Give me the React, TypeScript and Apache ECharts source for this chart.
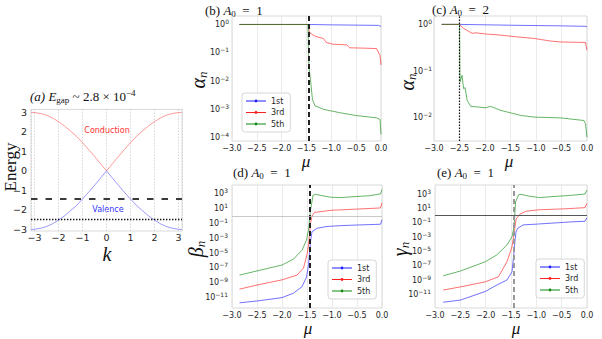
import React, { useEffect, useRef } from 'react';
import * as echarts from 'echarts';

// ---------- Panel (a): band structure ----------
const kPoints = [-3.14, -3, -2.75, -2.5, -2.25, -2, -1.75, -1.5, -1.25, -1, -0.75, -0.5, -0.25, 0, 0.25, 0.5, 0.75, 1, 1.25, 1.5, 1.75, 2, 2.25, 2.5, 2.75, 3, 3.14];
const conductionEnergy = [3.0, 2.99, 2.94, 2.85, 2.71, 2.52, 2.3, 2.04, 1.77, 1.44, 1.1, 0.74, 0.37, 0.0, 0.37, 0.74, 1.1, 1.44, 1.77, 2.04, 2.3, 2.52, 2.71, 2.85, 2.94, 2.99, 3.0];
const valenceEnergy = [-3.0, -2.99, -2.94, -2.85, -2.71, -2.52, -2.3, -2.04, -1.77, -1.44, -1.1, -0.74, -0.37, 0.0, -0.37, -0.74, -1.1, -1.44, -1.77, -2.04, -2.3, -2.52, -2.71, -2.85, -2.94, -2.99, -3.0];
const levelDashed = -1.42;
const levelDotted = -2.5;

// ---------- Panel (b): alpha_n, A0 = 1 ----------
const bMu1 = [-2.85, -1.45, -1.0, -0.5, -0.05, 0];
const bAlpha1 = [1, 1, 0.97, 0.95, 0.93, 0.85];
const bMu3 = [-2.85, -1.46, -1.45, -1.42, -1.33, -1.25, -1.16, -1.1, -0.96, -0.69, -0.63, -0.3, -0.09, -0.02, 0];
const bAlpha3 = [1, 1, 0.6, 0.48, 0.39, 0.35, 0.32, 0.23, 0.2, 0.19, 0.15, 0.145, 0.14, 0.08, 0.037];
const bMu5 = [-2.85, -1.47, -1.46, -1.45, -1.42, -1.38, -1.33, -1.16, -0.83, -0.49, -0.09, -0.02, 0];
const bAlpha5 = [1, 1, 0.1, 0.03, 0.0112, 0.0022, 0.00135, 0.001, 0.00076, 0.0006, 0.0005, 0.00044, 0.00013];
const bMarker = -1.45;

// ---------- Panel (c): alpha_n, A0 = 2 ----------
const cMu1 = [-2.85, -2.5, -1.5, -0.5, -0.03, 0];
const cAlpha1 = [1, 1, 0.96, 0.93, 0.91, 0.89];
const cMu3 = [-2.85, -2.5, -2.42, -2.25, -2.19, -1.96, -1.7, -1.37, -1.04, -0.72, -0.52, -0.03, 0];
const cAlpha3 = [1, 1, 0.82, 0.64, 0.66, 0.62, 0.59, 0.54, 0.5, 0.44, 0.42, 0.41, 0.28];
const cMu5 = [-2.85, -2.5, -2.49, -2.45, -2.42, -2.39, -2.35, -2.28, -1.99, -1.89, -1.7, -1.3, -1.04, -0.52, -0.06, -0.03, 0];
const cAlpha5 = [1, 1, 0.059, 0.081, 0.042, 0.044, 0.0235, 0.0175, 0.0163, 0.0175, 0.0144, 0.0112, 0.0103, 0.0099, 0.0087, 0.0074, 0.0038];
const cMarker = -2.5;

// ---------- Panel (d): beta_n, A0 = 1 ----------
const dMu1 = [-2.85, -2.5, -2.0, -1.77, -1.6, -1.51, -1.47, -1.43, -1.4, -1.3, -1.1, -0.83, -0.5, -0.03, 0];
const dBeta1 = [2e-12, 3.5e-12, 1e-11, 4e-11, 3e-10, 6e-9, 2.5e-7, 4e-4, 8e-3, 0.023, 0.04, 0.052, 0.063, 0.08, 0.32];
const dMu3 = [-2.85, -2.5, -2.0, -1.7, -1.57, -1.5, -1.47, -1.43, -1.4, -1.35, -1.23, -1.0, -0.83, -0.5, -0.03, 0];
const dBeta3 = [1.4e-10, 5e-10, 2.5e-9, 1.1e-8, 1e-7, 6.3e-6, 1.3e-4, 0.1, 1, 3.2, 4, 6.3, 6.9, 8.9, 12.6, 63];
const dMu5 = [-2.85, -2.5, -2.0, -1.77, -1.6, -1.51, -1.47, -1.43, -1.38, -1.33, -1.23, -1.03, -0.83, -0.5, -0.25, -0.03, 0];
const dBeta5 = [1.1e-8, 4e-8, 2.5e-7, 1.6e-6, 2.5e-5, 6.3e-4, 0.0126, 6.3, 630, 890, 630, 355, 316, 447, 562, 1000, 4000];
const dMarker = -1.45;

// ---------- Panel (e): gamma_n, A0 = 1 ----------
const eMu1 = [-2.84, -2.5, -2.01, -1.78, -1.58, -1.48, -1.44, -1.42, -1.4, -1.37, -1.26, -1.0, -0.67, -0.34, -0.04, 0];
const eGamma1 = [8e-13, 1.6e-12, 2.5e-11, 2e-10, 1e-9, 1.4e-8, 8.7e-6, 4e-4, 5.5e-3, 0.016, 0.05, 0.063, 0.089, 0.126, 0.158, 0.5];
const eMu3 = [-2.84, -2.5, -2.01, -1.75, -1.58, -1.48, -1.43, -1.4, -1.32, -1.2, -0.95, -0.4, -0.04, 0];
const eGamma3 = [4e-11, 1.1e-10, 5.6e-10, 2.8e-9, 3.5e-7, 4.4e-5, 9.3e-3, 0.32, 1.6, 4, 6.3, 8.9, 12.6, 50];
const eMu5 = [-2.84, -2.5, -2.01, -1.78, -1.58, -1.48, -1.44, -1.41, -1.35, -1.3, -1.15, -0.93, -0.67, -0.34, -0.04, 0];
const eGamma5 = [3.9e-9, 1.8e-8, 3.5e-7, 3.2e-6, 7.9e-5, 1.1e-3, 0.027, 79, 794, 891, 525, 316, 447, 631, 1000, 3630];
const eMarker = -1.44;

const seriesNames = ['1st', '3rd', '5th'];
const seriesColors = ['#1f1fff', '#ff2020', '#108a10'];

// ---------- styling helpers ----------
const SERIF = "'Liberation Serif', 'DejaVu Serif', serif";
const SANS = "'DejaVu Sans', sans-serif";
const TICK = '#262626';
const minus = (s: string) => s.replace('-', '\u2212');

const pairsLog = (mu: number[], vals: number[], shift: number) =>
  mu.map((m, i) => [m, Math.log10(vals[i]) + shift]);

const muAxis = (gi: number, margin: number) => ({
  type: 'value', gridIndex: gi, min: -3, max: 0, interval: 0.5,
  axisLine: { show: false }, axisTick: { show: false },
  axisLabel: { fontSize: 8, color: TICK, fontFamily: SANS, margin, showMinLabel: true, showMaxLabel: true, formatter: (v: number) => minus(v.toFixed(1)) },
  splitLine: { show: true, lineStyle: { color: '#e6e6e6', width: 0.8 } },
});

const logAxis = (gi: number, min: number, max: number, step: number, shift: number, margin: number) => ({
  type: 'value', gridIndex: gi, min, max, minInterval: step, maxInterval: step,
  axisLine: { show: false }, axisTick: { show: false }, splitLine: { show: false },
  axisLabel: {
    margin, color: TICK, fontSize: 8, fontFamily: SANS, showMinLabel: true, showMaxLabel: true,
    formatter: (v: number) => {
      const r = Math.round(v);
      if (Math.abs(v - r) > 1e-6) return '';
      const e = r - shift;
      return `{b|10}{s|${e < 0 ? '\u2212' + -e : e}}`;
    },
    rich: {
      b: { fontSize: 8, lineHeight: 12, fontFamily: SANS, color: TICK },
      s: { fontSize: 6, lineHeight: 6, verticalAlign: 'top', fontFamily: SANS, color: TICK },
    },
  },
});

const muLine = (name: string, color: string, gi: number, data: number[][], markLine?: any) => ({
  type: 'line', name, xAxisIndex: gi, yAxisIndex: gi, data,
  showSymbol: false, symbol: 'none', silent: true,
  lineStyle: { width: 0.8, color, opacity: 0.8 }, itemStyle: { color },
  ...(markLine ? { markLine } : {}),
});

const vMark = (x: number, color: string, width: number, type: any) => ({
  silent: true, symbol: ['none', 'none'], label: { show: false },
  lineStyle: { color, width, type },
  data: [{ xAxis: x }],
});

const legendIcon = 'path://M0,2.6L20,2.6L20,3.4L0,3.4Z M8.6,3A1.4,1.4,0,1,1,11.4,3A1.4,1.4,0,1,1,8.6,3Z';
const legendBase = {
  data: seriesNames, orient: 'vertical', icon: legendIcon, itemWidth: 20, itemHeight: 2.8, itemGap: 3.5,
  selectedMode: false, backgroundColor: 'rgba(255,255,255,0.9)', borderColor: '#cccccc', borderWidth: 0.8,
  borderRadius: 3, padding: [4, 6, 4, 4],
  textStyle: { fontSize: 8, color: TICK, fontFamily: SANS },
};

const titleRich = {
  t: { fontSize: 13, lineHeight: 16, fontFamily: SERIF, fill: '#111' },
  i: { fontSize: 13, lineHeight: 16, fontFamily: SERIF, fontStyle: 'italic', fill: '#111' },
  s: { fontSize: 9, lineHeight: 9, verticalAlign: 'bottom', fontFamily: SERIF, fill: '#111' },
  p: { fontSize: 9, lineHeight: 9, verticalAlign: 'top', fontFamily: SERIF, fill: '#111' },
};
const title = (x: number, y: number, text: string) => ({
  type: 'text', x, y, silent: true,
  style: { text, rich: titleRich, align: 'left', verticalAlign: 'middle' },
});

const nameRich = {
  g: { fontSize: 20, lineHeight: 22, fontFamily: SERIF, fontStyle: 'italic', fill: '#111' },
  n: { fontSize: 13, lineHeight: 13, verticalAlign: 'bottom', fontFamily: SERIF, fontStyle: 'italic', fill: '#111' },
};
const yName = (x: number, y: number, g: string) => ({
  type: 'text', x, y, rotation: Math.PI / 2, silent: true,
  style: { text: `{g|${g}}{n|n}`, rich: nameRich, align: 'center', verticalAlign: 'middle' },
});
const xName = (x: number, y: number, t: string, size: number) => ({
  type: 'text', x, y, silent: true,
  style: { text: t, fontSize: size, fontFamily: SERIF, fontStyle: 'italic', fill: '#111', align: 'center', verticalAlign: 'middle' },
});

function buildOption() {
  const gridStyle = { show: true, borderColor: '#cfcfcf', borderWidth: 0.8, containLabel: false };
  const intLabel = (v: number) => (Math.abs(v - Math.round(v)) < 1e-6 ? minus(String(Math.round(v))) : '');

  return {
    animation: false,
    backgroundColor: '#ffffff',
    grid: [
      { ...gridStyle, left: 31, top: 109.4, width: 151, height: 121.6 },
      { ...gridStyle, left: 232, top: 16, width: 149, height: 125 },
      { ...gridStyle, left: 434, top: 16, width: 153, height: 125 },
      { ...gridStyle, left: 232, top: 185, width: 150, height: 123 },
      { ...gridStyle, left: 435, top: 185, width: 152, height: 123 },
    ],
    xAxis: [
      {
        type: 'value', gridIndex: 0, min: -3.15, max: 3.15, minInterval: 1, maxInterval: 1,
        axisLine: { show: false }, axisTick: { show: false },
        axisLabel: { fontSize: 9.5, color: TICK, fontFamily: SANS, margin: 1, showMinLabel: true, showMaxLabel: true, formatter: intLabel },
        splitLine: { show: true, lineStyle: { color: '#cccccc', width: 0.8, type: [1.5, 1.5] } },
      },
      muAxis(1, 3), muAxis(2, 3), muAxis(3, 3), muAxis(4, 3),
    ],
    yAxis: [
      {
        type: 'value', gridIndex: 0, min: -3.08, max: 3.15, minInterval: 1, maxInterval: 1,
        axisLine: { show: false }, axisTick: { show: false }, splitLine: { show: false },
        axisLabel: { fontSize: 9.5, color: TICK, fontFamily: SANS, margin: 4, showMinLabel: true, showMaxLabel: true, formatter: intLabel },
      },
      logAxis(1, -4.12, 0.3, 1, 0, 3),
      logAxis(2, -2.5, 0.18, 1, 0, 2),
      logAxis(3, -13.4, 3.2, 2, -1, 4),
      logAxis(4, -13.9, 3.26, 2, -1, 4),
    ],
    legend: [
      { ...legendBase, left: 242, top: 93 },
      { ...legendBase, left: 328, top: 260 },
      { ...legendBase, left: 536, top: 259 },
    ],
    series: [
      // (a)
      {
        type: 'line', name: 'Conduction', xAxisIndex: 0, yAxisIndex: 0, silent: true,
        data: kPoints.map((k, i) => [k, conductionEnergy[i]]), showSymbol: false, symbol: 'none', smooth: false,
        lineStyle: { width: 0.8, color: '#ff6060', opacity: 0.8 },
        markLine: {
          silent: true, symbol: ['none', 'none'], label: { show: false },
          data: [
            { yAxis: levelDashed, lineStyle: { color: '#3a3a3a', width: 1.8, type: [6.5, 8] } },
            { yAxis: levelDotted, lineStyle: { color: '#111111', width: 1.3, type: [1.4, 1.6] } },
          ],
        },
      },
      {
        type: 'line', name: 'Valence', xAxisIndex: 0, yAxisIndex: 0, silent: true,
        data: kPoints.map((k, i) => [k, valenceEnergy[i]]), showSymbol: false, symbol: 'none', smooth: false,
        lineStyle: { width: 0.8, color: '#6060ff', opacity: 0.8 },
      },
      // (b)
      muLine('1st', seriesColors[0], 1, pairsLog(bMu1, bAlpha1, 0), vMark(bMarker, '#222', 2, [5, 3])),
      muLine('3rd', seriesColors[1], 1, pairsLog(bMu3, bAlpha3, 0)),
      muLine('5th', seriesColors[2], 1, pairsLog(bMu5, bAlpha5, 0)),
      // (c)
      muLine('1st', seriesColors[0], 2, pairsLog(cMu1, cAlpha1, 0), vMark(cMarker, '#111', 1.2, [1.4, 1.6])),
      muLine('3rd', seriesColors[1], 2, pairsLog(cMu3, cAlpha3, 0)),
      muLine('5th', seriesColors[2], 2, pairsLog(cMu5, cAlpha5, 0)),
      // (d)
      muLine('1st', seriesColors[0], 3, pairsLog(dMu1, dBeta1, -1), {
        silent: true, symbol: ['none', 'none'], label: { show: false },
        data: [
          { xAxis: dMarker, lineStyle: { color: '#222', width: 2, type: [5, 3] } },
          { yAxis: -1, lineStyle: { color: '#bbbbbb', width: 0.8, type: 'solid' } },
        ],
      }),
      muLine('3rd', seriesColors[1], 3, pairsLog(dMu3, dBeta3, -1)),
      muLine('5th', seriesColors[2], 3, pairsLog(dMu5, dBeta5, -1)),
      // (e)
      muLine('1st', seriesColors[0], 4, pairsLog(eMu1, eGamma1, -1), {
        silent: true, symbol: ['none', 'none'], label: { show: false },
        data: [
          { xAxis: eMarker, lineStyle: { color: '#999999', width: 2, type: [5, 3] } },
          { yAxis: -1, lineStyle: { color: '#555555', width: 1, type: 'solid' } },
        ],
      }),
      muLine('3rd', seriesColors[1], 4, pairsLog(eMu3, eGamma3, -1)),
      muLine('5th', seriesColors[2], 4, pairsLog(eMu5, eGamma5, -1)),
    ],
    graphic: [
      title(30, 96, '{i|(a) E}{s|gap}{t| ~ 2.8 \u00d7 10}{p|\u22124}'),
      title(205, 10, '{t|(b) }{i|A}{s|0}{t|  =  1}'),
      title(432, 9, '{t|(c) }{i|A}{s|0}{t|  =  2}'),
      title(233, 172, '{t|(d) }{i|A}{s|0}{t|  =  1}'),
      title(437, 172, '{t|(e) }{i|A}{s|0}{t|  =  1}'),
      {
        type: 'text', x: 10, y: 167, rotation: Math.PI / 2, silent: true,
        style: { text: 'Energy', fontSize: 17, fontFamily: SERIF, fill: '#111', align: 'center', verticalAlign: 'middle' },
      },
      { type: 'text', x: 107, y: 130, silent: true, style: { text: 'Conduction', fontSize: 8, fontFamily: SANS, fill: '#ff3030', align: 'center', verticalAlign: 'middle' } },
      { type: 'text', x: 108, y: 209, silent: true, style: { text: 'Valence', fontSize: 8, fontFamily: SANS, fill: '#3030ff', align: 'center', verticalAlign: 'middle' } },
      xName(107, 254, 'k', 20),
      yName(198, 80, '\u03b1'),
      yName(407, 82, '\u03b1'),
      yName(196, 249, '\u03b2'),
      yName(400, 249, '\u03b3'),
      xName(306, 161, '\u03bc', 17),
      xName(509, 161, '\u03bc', 17),
      xName(308, 328, '\u03bc', 17),
      xName(516, 328, '\u03bc', 17),
    ],
  };
}

export default function App() {
  const ref = useRef<HTMLDivElement>(null);
  useEffect(() => {
    if (!ref.current) return;
    const chart = echarts.init(ref.current, null, { renderer: 'svg' });
    chart.setOption(buildOption() as any);
    return () => chart.dispose();
  }, []);
  return (
    <div
      ref={ref}
      style={{ position: 'fixed', left: 0, top: 0, width: 602, height: 339, background: '#ffffff' }}
    />
  );
}
